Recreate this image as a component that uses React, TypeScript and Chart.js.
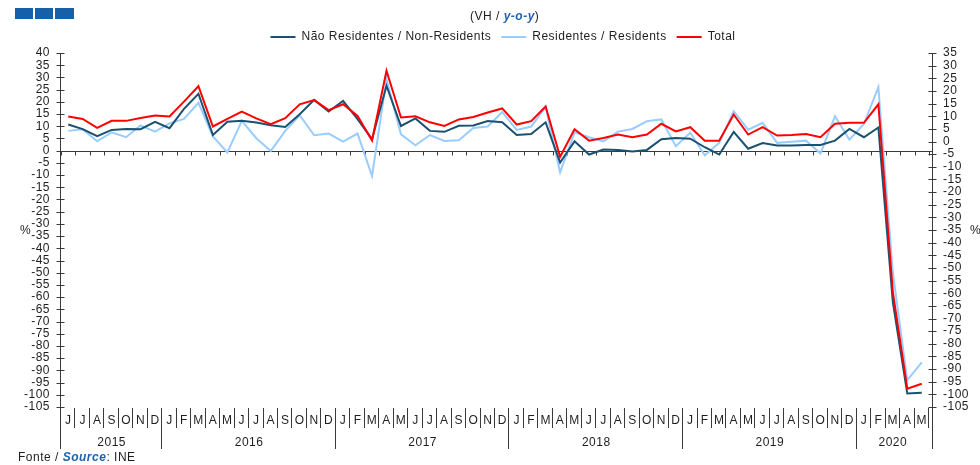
import React, { useEffect, useRef } from "react";
import { Chart, registerables } from "chart.js";

Chart.register(...registerables);

const FONT = "'Liberation Sans', Arial, Helvetica, sans-serif";

const months = [
  "J", "J", "A", "S", "O", "N", "D",
  "J", "F", "M", "A", "M", "J", "J", "A", "S", "O", "N", "D",
  "J", "F", "M", "A", "M", "J", "J", "A", "S", "O", "N", "D",
  "J", "F", "M", "A", "M", "J", "J", "A", "S", "O", "N", "D",
  "J", "F", "M", "A", "M", "J", "J", "A", "S", "O", "N", "D",
  "J", "F", "M", "A", "M",
];
const years = ["2015", "2016", "2017", "2018", "2019", "2020"];
const monthsPerYear = [7, 12, 12, 12, 12, 5];

const nonResidents = [
  10.7, 8.8, 5.9, 8.5, 8.9, 8.8, 11.8,
  9.2, 17.1, 23.3, 6.4, 11.8, 12.2, 11.5, 10.4, 9.7, 14.9, 20.8, 16.0,
  20.4, 12.9, 4.7, 26.6, 10.1, 13.2, 8.1, 7.7, 10.2, 10.3, 12.1, 11.6,
  6.4, 6.8, 11.6, -4.9, 3.8, -1.6, 0.5, 0.3, -0.3, 0.3, 4.7, 5.2,
  4.9, 1.4, -1.6, 7.7, 0.8, 3.1, 2.1, 2.1, 2.3, 2.3, 4.1, 8.9,
  5.5, 9.5, -62.0, -99.5, -99.2,
];
const residents = [
  8.1, 8.8, 3.8, 7.5, 5.5, 10.3, 7.8,
  11.2, 13.0, 19.6, 5.8, -0.7, 12.2, 5.1, -0.1, 8.1, 14.5, 6.3, 7.0,
  3.7, 7.0, -10.4, 29.3, 6.7, 2.2, 6.4, 4.0, 4.3, 9.3, 9.9, 15.8,
  8.5, 9.9, 17.8, -8.9, 7.5, 5.5, 3.8, 7.8, 8.9, 12.1, 12.8, 1.8,
  7.3, -1.9, 3.2, 16.2, 8.6, 11.4, 3.2, 3.6, 4.1, -1.2, 14.1, 4.5,
  10.9, 26.0, -50.0, -94.0, -86.7,
];
const total = [
  14.0, 13.0, 9.3, 12.2, 12.2, 13.4, 14.4,
  14.0, 20.1, 26.4, 9.9, 13.0, 16.0, 13.2, 10.8, 13.3, 19.0, 20.7, 16.6,
  19.0, 14.2, 4.2, 32.7, 13.6, 14.1, 11.6, 10.1, 12.8, 13.8, 15.6, 17.3,
  10.7, 12.1, 18.1, -2.5, 8.8, 4.1, 5.2, 6.6, 5.5, 6.6, 11.0, 7.9,
  9.6, 4.1, 4.1, 14.8, 6.6, 9.6, 6.2, 6.4, 6.8, 5.5, 11.0, 11.4,
  11.4, 19.0, -58.0, -97.5, -95.5,
];

const leftMin = -105;
const leftMax = 40;
const rightMin = -105;
const rightMax = 35;
const tickStep = 5;

const AXIS = "#3a3a3a";
const TEXT = "#1e1e1e";

const decor = {
  id: "decor",
  beforeUpdate(chart: any) {
    chart.ctx.letterSpacing = "0.5px";
  },
  afterLayout(chart: any) {
    const lg = chart.legend;
    if (lg) {
      lg.left += 13;
      lg.right += 13;
    }
  },
  beforeDraw(chart: any) {
    chart.ctx.letterSpacing = "0.5px";
  },
  beforeDatasetsDraw(chart: any) {
    const { ctx, chartArea: a, scales } = chart;
    const y = scales.y;
    const n = months.length;
    const w = (a.right - a.left) / n;
    const y0 = Math.round(y.getPixelForValue(0)) + 0.5;
    ctx.save();
    ctx.strokeStyle = AXIS;
    ctx.lineWidth = 1;
    ctx.beginPath();
    ctx.moveTo(a.left - 1, y0);
    ctx.lineTo(a.right + 3, y0);
    for (let i = 0; i <= n; i++) {
      const bx = Math.round(a.left + i * w) + 0.5;
      ctx.moveTo(bx, y0);
      ctx.lineTo(bx, y0 + 4);
    }
    ctx.stroke();
    ctx.restore();
  },
  afterDraw(chart: any) {
    const { ctx, chartArea: a, scales } = chart;
    const y = scales.y;
    const y2 = scales.y2;
    const n = months.length;
    const w = (a.right - a.left) / n;
    const bottomLine = 449;
    ctx.save();
    ctx.strokeStyle = AXIS;
    ctx.lineWidth = 1;
    ctx.beginPath();
    // left axis
    const lx = Math.round(a.left) - 0.5;
    ctx.moveTo(lx, a.top);
    ctx.lineTo(lx, bottomLine);
    for (let v = leftMin; v <= leftMax; v += tickStep) {
      const py = Math.round(y.getPixelForValue(v)) + 0.5;
      ctx.moveTo(lx - 4, py);
      ctx.lineTo(lx + 4, py);
    }
    // right axis
    const rx = Math.round(a.right) + 3.5;
    ctx.moveTo(rx, a.top);
    ctx.lineTo(rx, bottomLine);
    for (let v = rightMin; v <= rightMax; v += tickStep) {
      const py = Math.round(y2.getPixelForValue(v)) + 0.5;
      ctx.moveTo(rx - 4, py);
      ctx.lineTo(rx + 4, py);
    }
    // month and year separators
    const yearEnds = new Set<number>();
    let acc = 0;
    monthsPerYear.forEach((c) => {
      acc += c;
      yearEnds.add(acc);
    });
    for (let i = 1; i <= n; i++) {
      const bx = Math.round(a.left + i * w) - 0.5;
      ctx.moveTo(bx, a.bottom + 1);
      ctx.lineTo(bx, yearEnds.has(i) && i < n ? bottomLine : a.bottom + 21);
    }
    ctx.stroke();
    // year labels
    ctx.fillStyle = TEXT;
    ctx.font = `12px ${FONT}`;
    ctx.textAlign = "center";
    ctx.textBaseline = "middle";
    let start = 0;
    years.forEach((yr, k) => {
      const cnt = monthsPerYear[k];
      const cx = a.left + (start + cnt / 2) * w;
      ctx.fillText(yr, cx, 443);
      start += cnt;
    });
    ctx.restore();
  },
};

export default function App() {
  const canvasRef = useRef<HTMLCanvasElement | null>(null);

  useEffect(() => {
    const canvas = canvasRef.current;
    if (!canvas) return;
    const chart = new Chart(canvas, {
      type: "line",
      data: {
        labels: months,
        datasets: [
          {
            label: "Não Residentes / Non-Residents",
            data: nonResidents,
            borderColor: "#1B5170",
            backgroundColor: "#1B5170",
            borderWidth: 2,
            pointRadius: 0,
            tension: 0,
            yAxisID: "y",
            order: 1,
          },
          {
            label: "Residentes / Residents",
            data: residents,
            borderColor: "#99CCFF",
            backgroundColor: "#99CCFF",
            borderWidth: 2,
            pointRadius: 0,
            tension: 0,
            yAxisID: "y",
            order: 2,
          },
          {
            label: "Total",
            data: total,
            borderColor: "#FF0000",
            backgroundColor: "#FF0000",
            borderWidth: 2,
            pointRadius: 0,
            tension: 0,
            yAxisID: "y",
            order: 0,
          },
        ],
      },
      options: {
        responsive: false,
        animation: false,
        devicePixelRatio: 1,
        layout: { padding: { top: 21, left: 0, right: 0, bottom: 0 } },
        plugins: {
          legend: {
            position: "top",
            labels: {
              usePointStyle: true,
              pointStyle: "line",
              pointStyleWidth: 25,
              padding: 10,
              color: TEXT,
              font: { family: FONT, size: 12 },
              sort: (a: any, b: any) => a.datasetIndex - b.datasetIndex,
            },
          },
          tooltip: { enabled: false },
          title: { display: false },
        },
        scales: {
          x: {
            type: "category",
            offset: true,
            grid: { display: false, drawTicks: false },
            border: { display: false },
            ticks: {
              autoSkip: false,
              maxRotation: 0,
              minRotation: 0,
              padding: 6,
              color: TEXT,
              font: { family: FONT, size: 12 },
            },
            afterFit: (s: any) => {
              s.height = 58;
            },
          },
          y: {
            position: "left",
            min: leftMin,
            max: leftMax,
            grid: { display: false, drawTicks: false },
            border: { display: false },
            ticks: {
              stepSize: tickStep,
              autoSkip: false,
              padding: 11,
              color: TEXT,
              font: { family: FONT, size: 12 },
            },
            afterFit: (s: any) => {
              s.width = 61;
            },
          },
          y2: {
            position: "right",
            min: rightMin,
            max: rightMax,
            grid: { display: false, drawTicks: false },
            border: { display: false },
            ticks: {
              stepSize: tickStep,
              autoSkip: false,
              padding: 14,
              color: TEXT,
              font: { family: FONT, size: 12 },
            },
            afterFit: (s: any) => {
              s.width = 51;
            },
          },
        },
      },
      plugins: [decor],
    });
    return () => chart.destroy();
  }, []);

  const textStyle: React.CSSProperties = {
    position: "absolute",
    fontFamily: FONT,
    fontSize: 12,
    letterSpacing: "0.5px",
    color: TEXT,
    whiteSpace: "nowrap",
    lineHeight: "14px",
  };

  return (
    <div
      style={{
        position: "fixed",
        left: 0,
        top: 0,
        width: 980,
        height: 465,
        background: "#ffffff",
        overflow: "hidden",
      }}
    >
      <div style={{ position: "absolute", left: 15, top: 8, width: 18, height: 11, background: "#1560A8" }} />
      <div style={{ position: "absolute", left: 35, top: 8, width: 18, height: 11, background: "#1560A8" }} />
      <div style={{ position: "absolute", left: 55, top: 8, width: 19, height: 11, background: "#1560A8" }} />
      <canvas
        ref={canvasRef}
        width={980}
        height={465}
        style={{ position: "absolute", left: 0, top: 0, width: 980, height: 465 }}
      />
      <div style={{ ...textStyle, left: 470, top: 9 }}>
        (VH / <span style={{ color: "#1F63AD", fontWeight: "bold", fontStyle: "italic" }}>y-o-y</span>)
      </div>
      <div style={{ ...textStyle, left: 20, top: 223 }}>%</div>
      <div style={{ ...textStyle, left: 970, top: 223 }}>%</div>
      <div style={{ ...textStyle, left: 18, top: 450 }}>
        Fonte / <span style={{ color: "#1F63AD", fontWeight: "bold", fontStyle: "italic" }}>Source</span>: INE
      </div>
    </div>
  );
}
